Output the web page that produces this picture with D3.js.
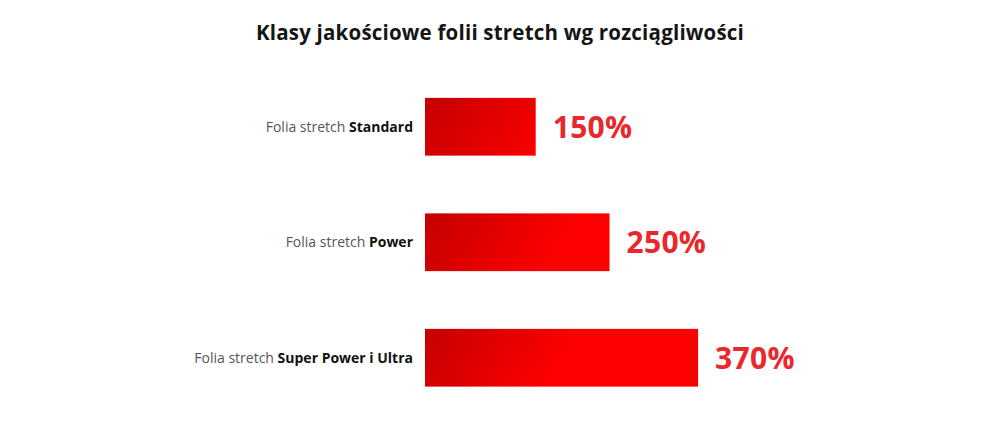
<!DOCTYPE html>
<html lang="pl">
<head>
  <meta charset="UTF-8" />
  <title>Klasy jakościowe folii stretch</title>
  <script src="https://d3js.org/d3.v7.min.js"></script>
  <style>
    body {
      margin: 0;
      background: #fff;
      font-family: "Open Sans", Lato, sans-serif;
    }
    svg { display: block; }
    .title { font-size: 20.5px; font-weight: 700; fill: #151515; letter-spacing: 0.2px; }
    .label { font-size: 14px; fill: #555; font-weight: 400; }
    .label .strong { font-weight: 700; fill: #111; }
    .value { font-size: 30px; font-weight: 700; fill: #e8282c; letter-spacing: 0.3px; }
  </style>
</head>
<body>
  <svg width="1000" height="424"></svg>

  <script>
    const names = ["Standard", "Power", "Super Power i Ultra"];
    const prefix = "Folia stretch ";
    const values = [150, 250, 370];

    const svg = d3.select("svg");
    const barX = 425;

    const x = d3.scaleLinear()
      .domain([0, 500])
      .range([0, 369]);

    const y = d3.scaleBand()
      .domain(names)
      .range([69, 415.5])
      .paddingInner(0.5)
      .paddingOuter(0.25);

    // one gradient, in each bar's own coordinates, so it darkens only the left part
    const grad = svg.append("defs").append("linearGradient")
      .attr("id", "barGrad")
      .attr("gradientUnits", "userSpaceOnUse")
      .attr("x1", 0).attr("y1", 0)
      .attr("x2", 110).attr("y2", y.bandwidth() * 1.3);
    grad.append("stop").attr("offset", "0%").attr("stop-color", "#c40000");
    grad.append("stop").attr("offset", "100%").attr("stop-color", "#ff0000");

    svg.append("text")
      .attr("class", "title")
      .attr("x", 500)
      .attr("y", 40)
      .attr("text-anchor", "middle")
      .text("Klasy jakościowe folii stretch wg rozciągliwości");

    const rows = svg.selectAll(".row")
      .data(names)
      .enter()
      .append("g")
      .attr("class", "row")
      .attr("transform", d => `translate(${barX},${y(d)})`);

    rows.append("rect")
      .attr("x", 0)
      .attr("y", 0)
      .attr("width", (d, i) => x(values[i]))
      .attr("height", y.bandwidth())
      .attr("fill", "url(#barGrad)");

    const lbl = rows.append("text")
      .attr("class", "label")
      .attr("x", -12)
      .attr("y", y.bandwidth() / 2)
      .attr("dy", "0.36em")
      .attr("text-anchor", "end");
    lbl.append("tspan").text(prefix);
    lbl.append("tspan").attr("class", "strong").text(d => d);

    rows.append("text")
      .attr("class", "value")
      .attr("x", (d, i) => x(values[i]) + 17)
      .attr("y", y.bandwidth() / 2)
      .attr("dy", "0.36em")
      .text((d, i) => values[i] + "%");
  </script>
</body>
</html>
